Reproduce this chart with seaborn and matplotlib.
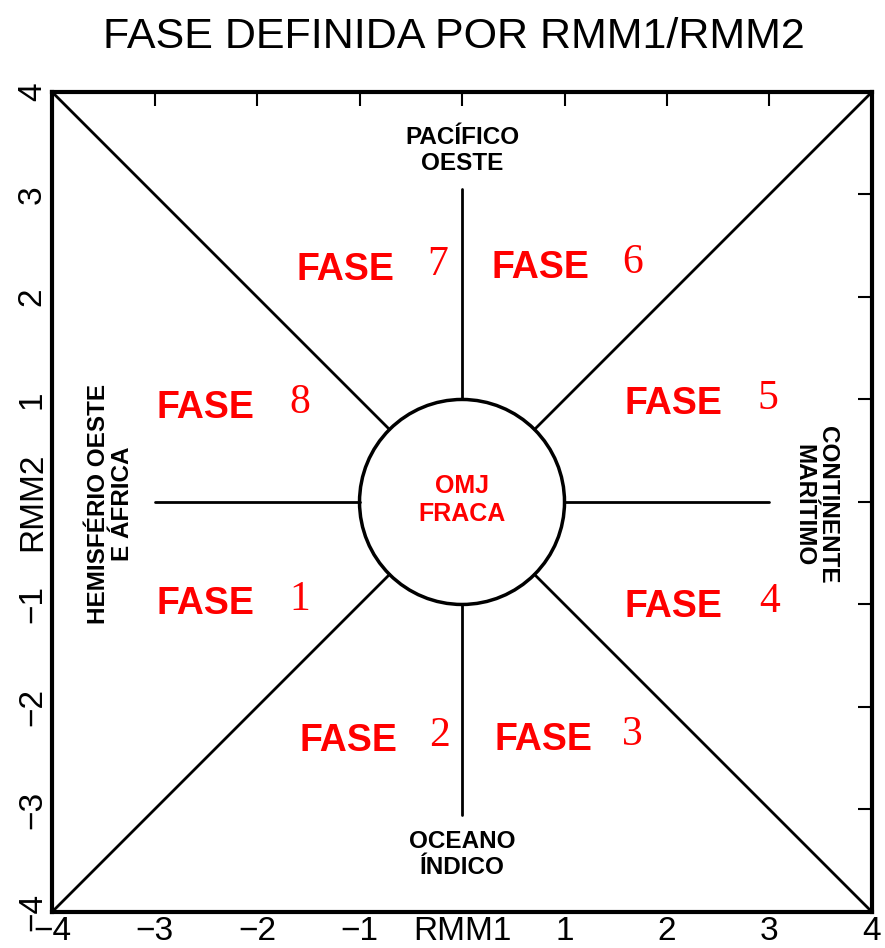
import matplotlib.pyplot as plt
import matplotlib.patches as mpatches
import pandas as pd
import seaborn as sns

# Phase diagram pieces
seg_x0 = [-4, 4, -4, 4, -3, 1, 0, 0]
seg_y0 = [4, 4, -4, -4, 0, 0, 1, -1]
seg_x1 = [-0.707, 0.707, -0.707, 0.707, -1, 3, 0, 0]
seg_y1 = [0.707, 0.707, -0.707, -0.707, 0, 0, 3.05, -3.05]

phase_nums = ['7', '6', '8', '5', '1', '4', '2', '3']
fase_x = [-1.14, 0.77, -2.5, 2.06, -2.5, 2.06, -1.11, 0.79]
num_x = [-0.24, 1.66, -1.58, 2.98, -1.58, 3.0, -0.22, 1.66]
fase_y = [2.26, 2.28, 0.92, 0.96, -1.0, -1.02, -2.33, -2.32]

tick_vals = [-4, -3, -2, -1, 0, 1, 2, 3, 4]
xtick_labels = ['\u22124', '\u22123', '\u22122', '\u22121', 'RMM1', '1', '2', '3', '4']
ytick_labels = ['\u22124', '\u22123', '\u22122', '\u22121', 'RMM2', '1', '2', '3', '4']

rows = []
for i in range(len(seg_x0)):
    rows.append({'seg': i, 'x': seg_x0[i], 'y': seg_y0[i]})
    rows.append({'seg': i, 'x': seg_x1[i], 'y': seg_y1[i]})
segs = pd.DataFrame(rows)

sns.set_style('white')
plt.rcParams['text.color'] = 'black'
plt.rcParams['xtick.color'] = 'black'
plt.rcParams['ytick.color'] = 'black'
font = 'Liberation Sans'

fig = plt.figure(figsize=(8.85, 9.48), dpi=100)
ax = fig.add_axes([0.0588, 0.038, 0.9265, 0.865])

sns.lineplot(data=segs, x='x', y='y', units='seg', estimator=None, sort=False,
             color='black', linewidth=2, ax=ax, legend=False)
ax.add_patch(mpatches.Circle((0, 0), 1, fill=False, edgecolor='black', linewidth=2.5, zorder=3))

for fx, nx, fy, n in zip(fase_x, num_x, fase_y, phase_nums):
    ax.text(fx, fy, 'FASE', color='red', fontsize=27, fontweight='bold', family=font,
            ha='center', va='center')
    ax.text(nx, fy + 0.05, n, color='red', fontsize=30, family='Liberation Serif',
            ha='center', va='center')

ax.text(0, 0.02, 'OMJ\nFRACA', color='red', fontsize=18, fontweight='bold', family=font,
        ha='center', va='center', linespacing=1.2)
ax.text(0, 3.43, 'PACÍFICO\nOESTE', color='black', fontsize=17.5, fontweight='bold', family=font,
        ha='center', va='center', linespacing=1.2)
ax.text(0, -3.44, 'OCEANO\nÍNDICO', color='black', fontsize=17.5, fontweight='bold', family=font,
        ha='center', va='center', linespacing=1.2)
ax.text(-3.43, -0.02, 'HEMISFÉRIO OESTE\nE ÁFRICA', color='black', fontsize=17.5, fontweight='bold',
        family=font, ha='center', va='center', rotation=90, linespacing=1.05)
ax.text(3.45, -0.03, 'CONTINENTE\nMARÍTIMO', color='black', fontsize=17.5, fontweight='bold',
        family=font, ha='center', va='center', rotation=-90, linespacing=1.05)

ax.set_xlim(-4, 4)
ax.set_ylim(-4, 4)
ax.set_xticks(tick_vals)
ax.set_yticks(tick_vals)
ax.set_xticklabels(xtick_labels, family=font, fontsize=24)
ax.set_yticklabels(ytick_labels, family=font, fontsize=24, rotation=90, va='center')
ax.set_xticks([0], minor=True)
ax.set_yticks([0], minor=True)
ax.tick_params(direction='in', length=10, width=1.5, top=True, right=True, pad=3)
ax.tick_params(which='minor', direction='in', length=15, width=1.5, top=True, right=True)
ax.set_xlabel('')
ax.set_ylabel('')
for s in ax.spines.values():
    s.set_linewidth(3)
    s.set_color('black')

fig.suptitle('FASE DEFINIDA POR RMM1/RMM2', family=font, fontsize=31, x=0.513, y=0.982,
             va='top', color='black')

fig.savefig('out.png', dpi=100)
